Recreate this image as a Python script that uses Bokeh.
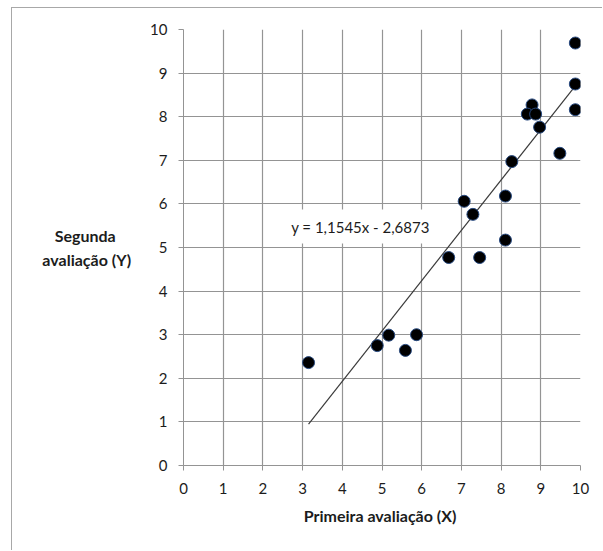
from bokeh.plotting import figure
from bokeh.models import Label, FixedTicker, ColumnDataSource
from bokeh.embed import file_html
from bokeh.resources import INLINE

# Data
primeira = [3.15, 4.88, 5.17, 5.59, 5.87, 6.68, 7.46, 7.07, 7.29, 8.11,
            8.11, 9.87, 9.87, 9.87, 8.78, 8.66, 8.87, 8.97, 9.48, 8.27]
segunda = [2.36, 2.75, 2.99, 2.64, 3.00, 4.77, 4.77, 6.06, 5.76, 6.18,
           5.17, 9.69, 8.75, 8.16, 8.27, 8.06, 8.06, 7.76, 7.16, 6.97]
slope = 1.1545
intercept = -2.6873
ticks = list(range(0, 11))
x_title = "Primeira avaliação  (X)"
y_title_lines = ["Segunda", "avaliação  (Y)"]
eq_text = "y = 1,1545x - 2,6873"

FONT = "Lato"
TXT = "#1c1c1c"
GRID = "#949494"

p = figure(width=591, height=543, x_range=(0, 10), y_range=(0, 10),
           output_backend="svg", toolbar_location=None,
           min_border_left=171, min_border_right=23,
           min_border_top=21, min_border_bottom=86,
           background_fill_color="white", border_fill_color="white")
p.styles = {"margin-left": "11px", "margin-top": "7px",
            "border-left": "1px solid #a8a8a8", "border-top": "1px solid #a8a8a8"}
p.outline_line_color = None

for ax in (p.xaxis[0], p.yaxis[0]):
    ax.ticker = FixedTicker(ticks=ticks)
    ax.minor_tick_line_color = None
    ax.major_tick_in = 0
    ax.major_tick_out = 5
    ax.major_tick_line_color = GRID
    ax.axis_line_color = GRID
    ax.major_label_text_font = FONT
    ax.major_label_text_font_size = "15px"
    ax.major_label_text_color = TXT
    ax.axis_label_text_font = FONT
    ax.axis_label_text_font_size = "16px"
    ax.axis_label_text_font_style = "bold"
    ax.axis_label_text_color = TXT
p.yaxis[0].major_label_standoff = 11
p.xaxis[0].major_label_standoff = 12
p.xaxis[0].axis_label = x_title
p.xaxis[0].axis_label_standoff = 9

# horizontal, two-line y title; non-breaking spaces centre the short line
yax = p.yaxis[0]
yax.axis_label_orientation = "horizontal"
yax.axis_label = y_title_lines[0] + "\u00a0" * 5 + "\n" + y_title_lines[1]
yax.axis_label_text_align = "center"
yax.axis_label_text_line_height = 1.3
yax.axis_label_standoff = 12

p.grid.grid_line_color = GRID
p.grid.grid_line_width = 1.2
p.xgrid.ticker = FixedTicker(ticks=ticks)
p.ygrid.ticker = FixedTicker(ticks=ticks)

# trendline
x0, x1 = min(primeira), max(primeira)
p.line([x0, x1], [slope * x0 + intercept, slope * x1 + intercept],
       line_color="#3a3a3a", line_width=1.2)

src = ColumnDataSource(dict(x=primeira, y=segunda))
p.scatter("x", "y", source=src, size=12, fill_color="black",
          line_color="#284a80", line_width=1)

p.add_layout(Label(x=2.51, y=5.48, text=eq_text, text_font=FONT,
                   text_font_size="15px", text_color=TXT,
                   text_baseline="middle", text_align="left",
                   background_fill_color="white", padding=8))

open("out.html", "w").write(file_html(p, INLINE))
